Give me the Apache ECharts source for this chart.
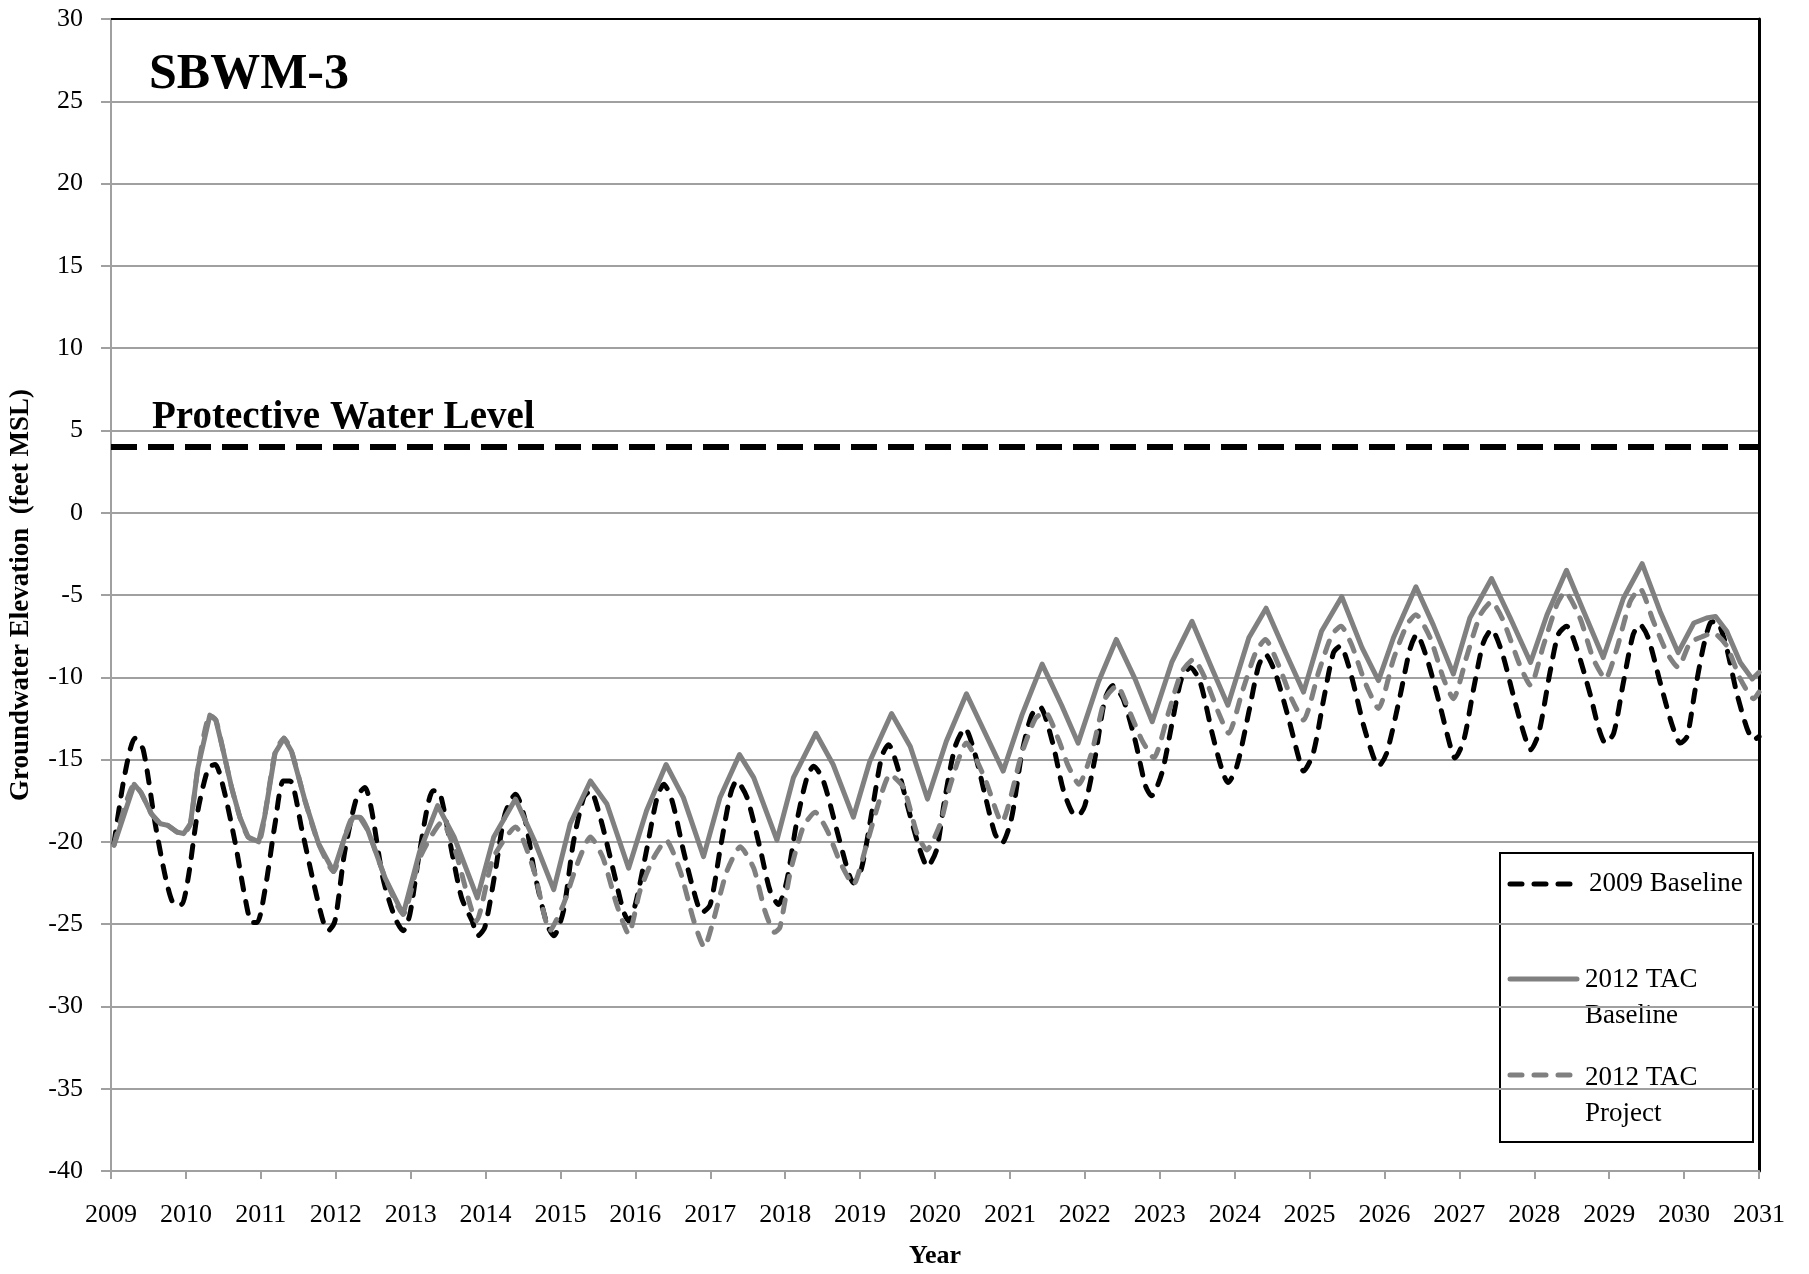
<!DOCTYPE html>
<html>
<head>
<meta charset="utf-8">
<title>SBWM-3 Groundwater Elevation</title>
<script src="https://cdn.jsdelivr.net/npm/echarts@6/dist/echarts.min.js"></script>
<style>
  html, body { margin: 0; padding: 0; background: #ffffff; }
  #chart { width: 1809px; height: 1274px; }
</style>
</head>
<body>
<div id="chart"></div>
<script>
// Simulated groundwater elevation at well SBWM-3 (feet MSL), [decimal year, elevation]
const baseline2009 = [
  [2009.04,-20.1],[2009.18,-16.0],[2009.32,-13.7],[2009.43,-14.4],[2009.59,-18.9],[2009.74,-22.4],[2009.85,-23.8],[2009.94,-23.8],
  [2010.03,-22.2],[2010.16,-18.1],[2010.30,-15.5],[2010.39,-15.3],[2010.50,-16.7],[2010.66,-20.1],[2010.79,-23.4],[2010.88,-24.9],[2010.95,-24.9],
  [2011.06,-22.8],[2011.19,-18.9],[2011.30,-16.3],[2011.39,-16.3],[2011.55,-19.3],[2011.70,-22.4],[2011.83,-24.8],[2011.90,-25.4],[2011.99,-24.8],
  [2012.12,-20.6],[2012.28,-17.3],[2012.39,-16.7],[2012.48,-18.1],[2012.63,-22.2],[2012.79,-24.6],[2012.90,-25.4],[2012.99,-24.4],
  [2013.12,-20.6],[2013.30,-16.9],[2013.39,-17.0],[2013.55,-20.6],[2013.68,-23.4],[2013.82,-24.8],[2013.90,-25.7],[2013.99,-25.2],
  [2014.13,-21.8],[2014.26,-18.3],[2014.40,-17.1],[2014.53,-18.7],[2014.66,-22.0],[2014.82,-25.0],[2014.91,-25.7],
  [2015.04,-24.2],[2015.17,-20.1],[2015.31,-17.3],[2015.40,-16.9],[2015.53,-18.5],[2015.71,-21.8],[2015.84,-24.2],[2015.91,-24.8],
  [2016.00,-23.8],[2016.15,-20.5],[2016.29,-17.3],[2016.38,-16.5],[2016.49,-17.5],[2016.64,-20.5],[2016.78,-23.0],[2016.89,-24.3],
  [2017.00,-23.8],[2017.13,-20.5],[2017.27,-17.1],[2017.35,-16.3],[2017.49,-17.3],[2017.67,-20.5],[2017.80,-23.0],[2017.91,-23.8],
  [2018.02,-22.4],[2018.15,-18.9],[2018.29,-16.1],[2018.38,-15.4],[2018.51,-16.3],[2018.69,-19.3],[2018.84,-21.8],[2018.91,-22.5],
  [2019.02,-21.6],[2019.16,-18.1],[2019.29,-14.8],[2019.38,-14.1],[2019.49,-15.3],[2019.65,-18.1],[2019.80,-20.5],[2019.90,-21.5],
  [2020.02,-20.5],[2020.13,-17.4],[2020.27,-14.2],[2020.40,-13.1],[2020.53,-14.6],[2020.67,-17.2],[2020.80,-19.5],[2020.89,-20.1],
  [2021.02,-18.6],[2021.16,-14.6],[2021.29,-12.3],[2021.40,-11.8],[2021.56,-13.8],[2021.71,-16.8],[2021.83,-18.2],[2021.91,-18.4],
  [2022.00,-17.8],[2022.14,-14.8],[2022.27,-11.3],[2022.38,-10.5],[2022.51,-11.3],[2022.67,-13.8],[2022.81,-16.6],[2022.89,-17.2],
  [2023.03,-15.8],[2023.16,-12.9],[2023.29,-10.1],[2023.41,-9.4],[2023.54,-10.3],[2023.70,-13.4],[2023.83,-15.6],[2023.91,-16.4],
  [2024.03,-15.4],[2024.19,-12.1],[2024.32,-9.3],[2024.41,-8.6],[2024.54,-9.7],[2024.72,-12.5],[2024.85,-14.8],[2024.92,-15.7],
  [2025.05,-14.6],[2025.19,-11.3],[2025.32,-8.5],[2025.41,-8.1],[2025.54,-9.6],[2025.72,-12.9],[2025.85,-14.8],[2025.92,-15.4],
  [2026.03,-14.6],[2026.21,-11.1],[2026.34,-8.3],[2026.43,-7.4],[2026.57,-8.9],[2026.74,-11.7],[2026.88,-14.2],[2026.94,-14.9],
  [2027.06,-13.8],[2027.19,-10.7],[2027.32,-7.9],[2027.43,-7.1],[2027.57,-8.5],[2027.72,-11.1],[2027.86,-13.4],[2027.95,-14.4],
  [2028.06,-13.4],[2028.21,-9.7],[2028.32,-7.4],[2028.43,-6.9],[2028.57,-8.3],[2028.75,-11.1],[2028.86,-13.1],[2028.95,-14.0],
  [2029.06,-13.4],[2029.19,-10.3],[2029.32,-7.4],[2029.41,-6.8],[2029.52,-7.6],[2029.68,-10.3],[2029.84,-12.9],[2029.95,-14.0],
  [2030.04,-13.6],[2030.15,-10.7],[2030.26,-8.1],[2030.35,-6.7],[2030.43,-6.6],[2030.55,-7.9],[2030.70,-10.9],[2030.84,-13.1],[2030.93,-13.8],
  [2031.00,-13.6]
];

const tacBaseline2012 = [
  [2009.04,-20.2],[2009.31,-16.5],[2009.40,-17.0],[2009.54,-18.3],[2009.66,-18.9],[2009.76,-19.0],[2009.88,-19.4],[2009.97,-19.5],
  [2010.06,-18.9],[2010.16,-15.5],[2010.32,-12.3],[2010.40,-12.6],[2010.50,-14.5],[2010.61,-16.7],[2010.72,-18.5],[2010.83,-19.7],[2010.97,-20.0],
  [2011.05,-18.5],[2011.19,-14.6],[2011.31,-13.7],[2011.41,-14.5],[2011.59,-17.5],[2011.77,-20.1],[2011.97,-21.8],
  [2012.12,-19.7],[2012.23,-18.5],[2012.32,-18.5],[2012.43,-19.3],[2012.66,-22.2],[2012.90,-24.4],
  [2013.12,-20.6],[2013.36,-17.8],[2013.58,-19.7],[2013.89,-23.4],
  [2014.11,-19.7],[2014.40,-17.4],[2014.65,-19.9],[2014.91,-22.9],
  [2015.13,-18.9],[2015.40,-16.3],[2015.62,-17.7],[2015.91,-21.6],
  [2016.15,-18.1],[2016.41,-15.3],[2016.64,-17.3],[2016.91,-20.9],
  [2017.13,-17.3],[2017.39,-14.7],[2017.58,-16.1],[2017.89,-19.9],
  [2018.11,-16.1],[2018.41,-13.4],[2018.64,-15.3],[2018.91,-18.5],
  [2019.13,-15.1],[2019.42,-12.2],[2019.67,-14.2],[2019.90,-17.4],
  [2020.15,-13.9],[2020.42,-11.0],[2020.67,-13.4],[2020.91,-15.7],
  [2021.16,-12.3],[2021.43,-9.2],[2021.69,-11.7],[2021.91,-14.0],
  [2022.18,-10.3],[2022.42,-7.7],[2022.67,-10.1],[2022.90,-12.7],
  [2023.16,-9.1],[2023.43,-6.6],[2023.70,-9.5],[2023.91,-11.7],
  [2024.19,-7.6],[2024.42,-5.8],[2024.68,-8.5],[2024.92,-10.9],
  [2025.16,-7.2],[2025.43,-5.1],[2025.70,-8.2],[2025.92,-10.2],
  [2026.12,-7.6],[2026.42,-4.5],[2026.65,-6.8],[2026.92,-9.8],
  [2027.14,-6.4],[2027.43,-4.0],[2027.68,-6.4],[2027.95,-9.1],
  [2028.17,-6.2],[2028.43,-3.5],[2028.66,-6.0],[2028.92,-8.8],
  [2029.19,-5.2],[2029.44,-3.1],[2029.68,-6.0],[2029.92,-8.5],
  [2030.13,-6.7],[2030.30,-6.4],[2030.42,-6.3],[2030.57,-7.2],[2030.75,-9.1],[2030.91,-10.1],[2031.00,-9.7]
];

const tacProject2012 = [
  [2009.04,-20.2],[2009.31,-16.5],[2009.40,-17.0],[2009.54,-18.3],[2009.66,-18.9],[2009.76,-19.0],[2009.88,-19.4],[2009.97,-19.5],
  [2010.06,-18.9],[2010.16,-15.5],[2010.32,-12.3],[2010.40,-12.6],[2010.50,-14.5],[2010.61,-16.7],[2010.72,-18.5],[2010.83,-19.7],[2010.97,-20.0],
  [2011.05,-18.5],[2011.19,-14.6],[2011.31,-13.7],[2011.41,-14.5],[2011.59,-17.5],[2011.77,-20.1],[2011.97,-21.8],
  [2012.12,-19.7],[2012.23,-18.5],[2012.32,-18.5],[2012.43,-19.3],[2012.66,-22.2],[2012.90,-24.4],
  [2013.12,-21.0],[2013.42,-18.8],[2013.60,-20.6],[2013.88,-24.8],
  [2014.10,-21.0],[2014.40,-19.1],[2014.65,-21.8],[2014.86,-25.4],
  [2015.04,-23.8],[2015.22,-21.4],[2015.40,-19.7],[2015.57,-21.0],[2015.75,-23.8],[2015.91,-25.6],
  [2016.06,-23.0],[2016.24,-21.0],[2016.41,-19.9],[2016.60,-21.8],[2016.78,-24.8],[2016.92,-26.4],
  [2017.04,-24.8],[2017.22,-21.8],[2017.40,-20.3],[2017.58,-21.6],[2017.73,-24.2],[2017.86,-25.5],[2017.93,-25.2],
  [2018.07,-21.8],[2018.24,-19.1],[2018.40,-18.2],[2018.56,-19.3],[2018.73,-21.2],[2018.91,-22.6],
  [2019.09,-20.1],[2019.27,-17.3],[2019.40,-15.9],[2019.58,-16.7],[2019.76,-19.5],[2019.89,-20.5],
  [2020.07,-18.9],[2020.20,-16.6],[2020.42,-14.0],[2020.67,-16.2],[2020.89,-18.8],
  [2021.16,-14.6],[2021.34,-12.5],[2021.47,-12.1],[2021.65,-13.8],[2021.78,-15.4],[2021.92,-16.5],
  [2022.09,-14.6],[2022.27,-11.3],[2022.43,-10.5],[2022.58,-11.9],[2022.76,-13.8],[2022.92,-14.9],
  [2023.12,-12.1],[2023.29,-9.7],[2023.45,-8.9],[2023.61,-10.1],[2023.78,-12.1],[2023.92,-13.4],
  [2024.10,-10.9],[2024.28,-8.5],[2024.41,-7.7],[2024.59,-9.3],[2024.76,-11.3],[2024.92,-12.6],
  [2025.12,-9.7],[2025.30,-7.4],[2025.42,-6.9],[2025.56,-8.0],[2025.74,-10.3],[2025.92,-11.9],
  [2026.12,-8.9],[2026.30,-6.8],[2026.42,-6.2],[2026.61,-7.6],[2026.79,-10.1],[2026.92,-11.3],
  [2027.10,-8.7],[2027.28,-6.2],[2027.43,-5.4],[2027.59,-6.6],[2027.81,-9.3],[2027.95,-10.5],
  [2028.12,-8.1],[2028.30,-5.6],[2028.41,-4.8],[2028.61,-6.4],[2028.79,-8.9],[2028.95,-10.1],
  [2029.10,-8.3],[2029.28,-5.4],[2029.41,-4.6],[2029.59,-6.6],[2029.77,-8.5],[2029.92,-9.4],
  [2030.08,-7.9],[2030.26,-7.5],[2030.39,-7.3],[2030.57,-8.1],[2030.75,-10.1],[2030.93,-11.3],[2031.00,-10.9]
];

// Protective water level (feet MSL) and the span it is drawn across
const protectiveLevel = 4;
const protectiveSpan = [2009, 2031];

// Axis tick labels
const yearTicks = [2009, 2010, 2011, 2012, 2013, 2014, 2015, 2016, 2017, 2018, 2019, 2020,
                   2021, 2022, 2023, 2024, 2025, 2026, 2027, 2028, 2029, 2030, 2031];
const elevationRange = [-40, 30];
const elevationStep = 5;

const serif = '"Liberation Serif", "Times New Roman", serif';
const gridGray = '#a0a0a0';
const seriesGray = '#808080';

const chart = echarts.init(document.getElementById('chart'), null, { renderer: 'canvas' });

const plotLeft = 111, plotRight = 50, plotTop = 19, plotBottom = 100;

chart.setOption({
  backgroundColor: '#ffffff',
  animation: false,
  grid: { left: plotLeft, right: plotRight, top: plotTop, bottom: plotBottom, containLabel: false },
  xAxis: [
    {
      type: 'value',
      min: yearTicks[0],
      max: yearTicks[yearTicks.length - 1],
      interval: 1,
      name: 'Year',
      nameLocation: 'middle',
      nameGap: 72,
      nameTextStyle: { fontFamily: serif, fontWeight: 'bold', fontSize: 26, color: '#000' },
      axisLine: { show: true, onZero: false, lineStyle: { color: gridGray, width: 2 } },
      axisTick: { show: true, inside: false, length: 8, customValues: yearTicks, lineStyle: { color: gridGray, width: 2 } },
      axisLabel: { margin: 31, customValues: yearTicks, fontFamily: serif, fontSize: 26, color: '#000',
                   formatter: v => String(v) },
      splitLine: { show: false }
    },
    {
      type: 'value',
      position: 'top',
      min: yearTicks[0],
      max: yearTicks[yearTicks.length - 1],
      axisLine: { show: true, onZero: false, lineStyle: { color: '#000', width: 2 } },
      axisTick: { show: false },
      axisLabel: { show: false },
      splitLine: { show: false }
    }
  ],
  yAxis: [
    {
      type: 'value',
      min: elevationRange[0],
      max: elevationRange[1],
      interval: elevationStep,
      name: 'Groundwater Elevation  (feet MSL)',
      nameLocation: 'middle',
      nameGap: 76,
      nameTextStyle: { fontFamily: serif, fontWeight: 'bold', fontSize: 27, color: '#000' },
      axisLine: { show: true, onZero: false, lineStyle: { color: gridGray, width: 2 } },
      axisTick: { show: true, inside: false, length: 10, lineStyle: { color: gridGray, width: 2 } },
      axisLabel: { margin: 28, fontFamily: serif, fontSize: 26, color: '#000' },
      splitLine: { show: true, lineStyle: { color: gridGray, width: 2 } }
    },
    {
      type: 'value',
      position: 'right',
      min: elevationRange[0],
      max: elevationRange[1],
      interval: elevationStep,
      axisLine: { show: true, onZero: false, lineStyle: { color: '#000', width: 3 } },
      axisTick: { show: false },
      axisLabel: { show: false },
      splitLine: { show: false }
    }
  ],
  series: [
    {
      name: 'Protective Water Level',
      type: 'line',
      data: protectiveSpan.map(x => [x, protectiveLevel]),
      showSymbol: false,
      silent: true,
      lineStyle: { color: '#000', width: 6, type: [26, 11], cap: 'butt' }
    },
    {
      name: '2009 Baseline',
      type: 'line',
      data: baseline2009,
      showSymbol: false,
      smooth: 0.25,
      lineStyle: { color: '#000', width: 5, type: [12, 12], cap: 'round', join: 'round' }
    },
    {
      name: '2012 TAC Baseline',
      type: 'line',
      data: tacBaseline2012,
      showSymbol: false,
      lineStyle: { color: seriesGray, width: 5, type: 'solid', cap: 'round', join: 'round' }
    },
    {
      name: '2012 TAC Project',
      type: 'line',
      data: tacProject2012,
      showSymbol: false,
      smooth: 0.2,
      lineStyle: { color: seriesGray, width: 5, type: [12, 12], cap: 'round', join: 'round' }
    }
  ],
  graphic: [
    // Well name
    { type: 'text', left: 149, top: 50, z: 10,
      style: { text: 'SBWM-3', font: 'bold 50px ' + serif, fill: '#000' } },
    // Label for the dashed protective level line
    { type: 'text', left: 152, top: 398, z: 10,
      style: { text: 'Protective Water Level', font: 'bold 39px ' + serif, fill: '#000' } },
    // Legend
    { type: 'group', left: 1499, top: 852, z: 20, children: [
      { type: 'rect', shape: { x: 0, y: 0, width: 253, height: 289 },
        style: { fill: '#ffffff', stroke: '#000', lineWidth: 2 } },
      { type: 'line', shape: { x1: 10, y1: 31, x2: 72, y2: 31 },
        style: { stroke: '#000', lineWidth: 5, lineDash: [12, 12], lineCap: 'round' } },
      { type: 'text', x: 89, y: 31,
        style: { text: '2009 Baseline', font: '27px ' + serif, fill: '#000', verticalAlign: 'middle' } },
      { type: 'line', shape: { x1: 10, y1: 126, x2: 77, y2: 126 },
        style: { stroke: seriesGray, lineWidth: 5, lineCap: 'round' } },
      { type: 'text', x: 85, y: 109,
        style: { text: '2012 TAC\nBaseline', font: '27px ' + serif, fill: '#000', lineHeight: 36, verticalAlign: 'top' } },
      { type: 'line', shape: { x1: 10, y1: 222, x2: 72, y2: 222 },
        style: { stroke: seriesGray, lineWidth: 5, lineDash: [12, 12], lineCap: 'round' } },
      { type: 'text', x: 85, y: 207,
        style: { text: '2012 TAC\nProject', font: '27px ' + serif, fill: '#000', lineHeight: 36, verticalAlign: 'top' } }
    ] }
  ]
});
</script>
</body>
</html>
